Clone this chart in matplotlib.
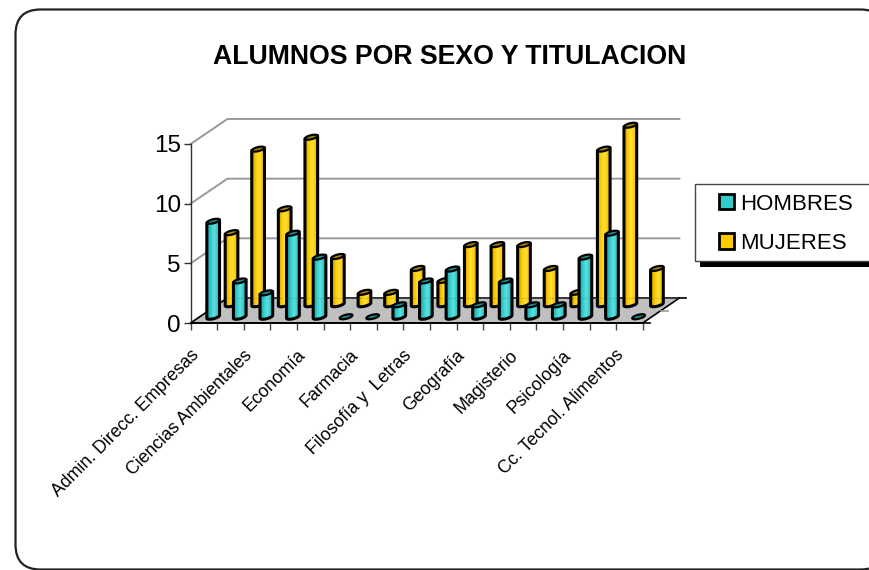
import numpy as np
import matplotlib
matplotlib.use("Agg")
import matplotlib.pyplot as plt
from matplotlib.patches import Polygon, FancyBboxPatch, Rectangle, Patch
from matplotlib.colors import LinearSegmentedColormap
from matplotlib.transforms import ScaledTranslation

title = "ALUMNOS POR SEXO Y TITULACION"
series_names = ["HOMBRES", "MUJERES"]
category_labels = ["Admin. Direcc. Empresas", "Ciencias Ambientales", "Economía", "Farmacia",
                   "Filosofía y  Letras", "Geografía", "Magisterio", "Psicología",
                   "Cc. Tecnol. Alimentos"]
hombres = [8, 3, 2, 7, 5, 0, 0, 1, 3, 4, 1, 3, 1, 1, 5, 7, 0]
mujeres = [6, 13, 8, 14, 4, 1, 1, 3, 2, 5, 5, 5, 3, 1, 13, 15, 3]
y_ticks = [0, 5, 10, 15]

W, H = 870, 570
X0, X1, Y0, Y15 = 190.7, 642.7, 323.0, 144.0
fig = plt.figure(figsize=(W / 100, H / 100), dpi=100)
REG = ["Liberation Sans"]

# chrome layer in pixel coordinates
bg = fig.add_axes([0, 0, 1, 1], zorder=0)
bg.set_xlim(0, W); bg.set_ylim(H, 0); bg.axis("off")
bg.add_patch(FancyBboxPatch((15.5 + 25, 9.5 + 25), 870 - 50, 560 - 50,
                            boxstyle="round,pad=25", fc="white", ec="#222222", lw=1.6))
bg.text(450, 57, title, ha="center", va="center", family=REG, weight="bold", fontsize=19.2)

ax = fig.add_axes([X0 / W, 1 - Y0 / H, (X1 - X0) / W, (Y0 - Y15) / H], zorder=1)
ax.patch.set_visible(False)
n = len(hombres)
ppx = (X1 - X0) / n
ppy = (Y0 - Y15) / 15
DX = 36.7 / ppx   # depth offset in category units
DY = 25.0 / ppy   # depth offset in value units


def proj(c, d, v):
    return c + d * DX, v + d * DY


# walls and floor
top = y_ticks[-1]
for v in y_ticks:
    xs, ys = proj(np.array([0, 0, n]), np.array([0, 1, 1]), np.array([v, v, v]))
    ax.plot(xs, ys, color="#999999", lw=1.4, clip_on=False, zorder=1, solid_joinstyle="miter")
floor = np.array([proj(0, 0, 0), proj(n, 0, 0), proj(n, 1, 0), proj(0, 1, 0)])
ax.add_patch(Polygon(floor, closed=True, fc="#C0C0C0", ec="none", clip_on=False, zorder=2))
xs, ys = proj(np.array([0, 0, n, n]), np.array([1, 0, 0, 1]), np.zeros(4))
ax.plot(xs, ys, color="black", lw=1.2, clip_on=False, zorder=2.1)
xs, ys = proj(np.array([0, n]), np.array([1, 1]), np.zeros(2))
ax.plot(xs, ys, color="#222222", lw=1.2, clip_on=False, zorder=2.1)
# depth axis ticks
tick = 7 / ppx
for d, col in zip([0, 0.5, 1], ["black", "#999999", "black"]):
    xs, ys = proj(np.array([n, n + tick]), np.array([d, d]), np.zeros(2))
    ax.plot(xs, ys, color=col, lw=1.2, clip_on=False, zorder=2.1)

A = 0.195   # cylinder radius along x (category units)
B = 0.10    # cylinder radius along depth
T0 = np.arctan2(B * DX, A)
body_t = np.linspace(T0 + np.pi, T0 + 2 * np.pi, 30)
all_t = np.linspace(0, 2 * np.pi, 50)
R = np.hypot(A, B * DX)


def ell(c, d, v, t):
    return proj(c + A * np.cos(t), d + B * np.sin(t), v)


def cmap(dark, mid, light):
    return LinearSegmentedColormap.from_list("c", [(0, dark), (0.3, mid), (0.55, light), (0.8, mid), (1, dark)])


styles = [
    (0.25, hombres, cmap("#1E9A9A", "#33CCCC", "#5FE0E0"), "#1F9090", 5),
    (0.75, mujeres, cmap("#C89A00", "#FFCC00", "#FFE040"), "#B08800", 3),
]
grad = np.linspace(0, 1, 64).reshape(1, -1)
for d, values, cm, topc, z in styles:
    for i, v in enumerate(values):
        c = i + 0.5
        ex, ey = ell(c, d, v, all_t)
        if v > 0:
            bx, by = ell(c, d, 0, body_t)
            tx, ty = ell(c, d, v, np.array([T0 + np.pi, T0 + 2 * np.pi]))
            pts = np.column_stack([np.r_[bx, tx[1], tx[0]], np.r_[by, ty[1], ty[0]]])
            body = Polygon(pts, closed=True, fc="none", ec="black", lw=2.2, clip_on=False,
                           zorder=z + i * 0.001 + 0.0002, joinstyle="round")
            ax.add_patch(body)
            cx = proj(c, d, 0)[0]
            im = ax.imshow(grad, cmap=cm, aspect="auto", extent=(cx - R, cx + R, by.min(), ty.max() + 1),
                           zorder=z + i * 0.001 + 0.0001, interpolation="bilinear")
            im.set_clip_path(Polygon(pts, closed=True, transform=ax.transData))
            im.set_clip_box(fig.bbox)
        ax.add_patch(Polygon(np.column_stack([ex, ey]), closed=True, fc=topc, ec="black", lw=1.6,
                             clip_on=False, zorder=z + i * 0.001 + 0.0003))

ax.plot(*proj(np.array([0, n]), np.array([1, 1]), np.zeros(2)), ls=":", color="#555555", lw=0.6,
        alpha=0.6, clip_on=False, zorder=6)

for s in ("top", "right"):
    ax.spines[s].set_visible(False)
ax.spines["left"].set_color("#333333")
ax.spines["bottom"].set_color("black")
ax.spines["left"].set_linewidth(1.0)
ax.spines["bottom"].set_linewidth(1.2)
ax.set_xticks(np.arange(n + 1))
ax.set_xticklabels([])
ax.tick_params(axis="x", which="major", length=5, width=1.0, color="#444444")
ax.set_yticks(y_ticks)
ax.set_yticklabels([str(v) for v in y_ticks], family=REG, fontsize=17.5)
ax.tick_params(axis="y", length=5, width=1.0, color="#333333", pad=2)
ax.set_xticks(np.arange(len(category_labels)) * 2 + 0.5, minor=True)
ax.set_xticklabels(category_labels, minor=True, rotation=45, ha="right", va="top",
                   rotation_mode="anchor", family=REG, fontsize=12.8)
ax.tick_params(axis="x", which="minor", length=0, pad=17)
ax.set_xlim(0, n)
ax.set_ylim(0, top)
shift = ScaledTranslation(-0.14, 0, fig.dpi_scale_trans)
for label in ax.get_xticklabels(minor=True):
    label.set_transform(label.get_transform() + shift)

# legend box and shadow
bg.add_patch(Rectangle((700, 261), 190, 6, fc="black", ec="none", clip_on=True))
bg.add_patch(Rectangle((695.5, 183.5), 200, 77, fc="white", ec="#444444", lw=1.0, clip_on=True))
handles = [Patch(fc="#33CCCC", ec="black", lw=2), Patch(fc="#FFCC00", ec="black", lw=2)]
fig.legend(handles, series_names, loc="upper left", bbox_to_anchor=(719 / W, 1 - 193.5 / H),
           frameon=False, borderpad=0, borderaxespad=0, handlelength=0.68, handleheight=0.68,
           handletextpad=0.27, labelspacing=0.82, prop={"family": "Liberation Sans", "size": 16}).set_zorder(3)

fig.savefig("out.png", dpi=100)
